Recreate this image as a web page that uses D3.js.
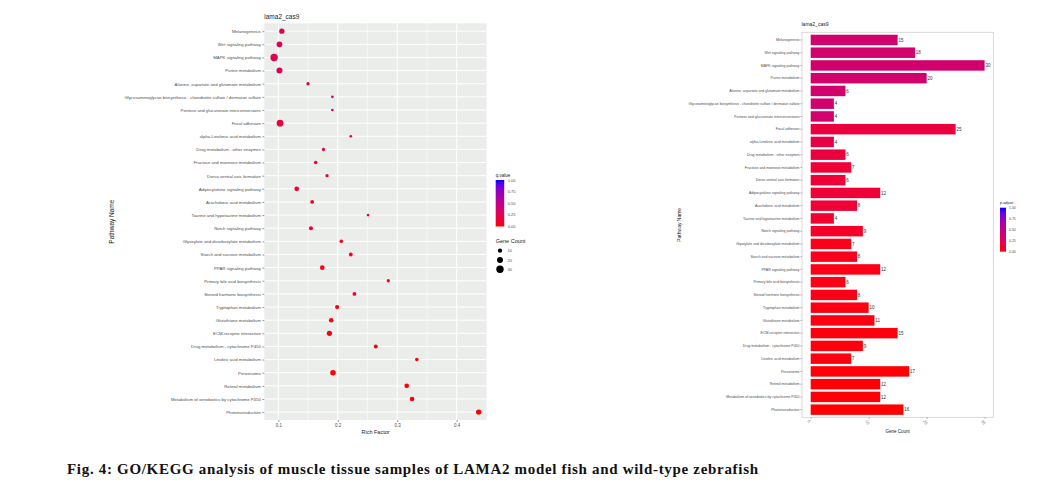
<!DOCTYPE html>
<html><head><meta charset="utf-8">
<script src="https://cdn.jsdelivr.net/npm/d3@7"></script>
<style>body{margin:0;background:#fff}svg{display:block}</style>
</head><body><svg id="c" width="1061" height="486"></svg>
<script>
const pathways = [
  "Melanogenesis","Wnt signaling pathway","MAPK signaling pathway","Purine metabolism",
  "Alanine, aspartate and glutamate metabolism",
  "Glycosaminoglycan biosynthesis - chondroitin sulfate / dermatan sulfate",
  "Pentose and glucuronate interconversions","Focal adhesion","alpha-Linolenic acid metabolism",
  "Drug metabolism - other enzymes","Fructose and mannose metabolism","Dorso-ventral axis formation",
  "Adipocytokine signaling pathway","Arachidonic acid metabolism","Taurine and hypotaurine metabolism",
  "Notch signaling pathway","Glyoxylate and dicarboxylate metabolism","Starch and sucrose metabolism",
  "PPAR signaling pathway","Primary bile acid biosynthesis","Steroid hormone biosynthesis",
  "Tryptophan metabolism","Glutathione metabolism","ECM-receptor interaction",
  "Drug metabolism - cytochrome P450","Linoleic acid metabolism","Peroxisome","Retinol metabolism",
  "Metabolism of xenobiotics by cytochrome P450","Phototransduction"
];
const richFactor = [0.106,0.102,0.093,0.102,0.150,0.191,0.191,0.103,0.222,0.176,0.163,0.182,0.131,0.157,0.251,
  0.155,0.206,0.222,0.174,0.285,0.228,0.199,0.189,0.186,0.264,0.333,0.192,0.316,0.325,0.437];
const geneCount = [15,18,30,20,6,4,4,25,4,6,7,6,12,8,4,9,7,8,12,6,8,10,11,15,9,7,17,12,12,16];
const qValue = [0.27,0.27,0.27,0.27,0.3,0.33,0.33,0.16,0.3,0.14,0.13,0.13,0.12,0.1,0.14,
  0.09,0.05,0.05,0.04,0.04,0.04,0.03,0.03,0.02,0.02,0.02,0.01,0.01,0.01,0.0];
const pAdjust = [0.38,0.38,0.38,0.38,0.38,0.38,0.38,0.18,0.22,0.18,0.15,0.15,0.15,0.15,0.12,
  0.1,0.05,0.05,0.04,0.04,0.04,0.03,0.03,0.02,0.02,0.02,0.01,0.01,0.01,0.0];
const richTicks = [0.1,0.2,0.3,0.4];
const richMinor = [0.15,0.25,0.35];
const countTicks = [0,10,20,30];
const legendTicks = [1.00,0.75,0.50,0.25,0.00];
const sizeLegend = [10,20,30];
const panelTitle = "lama2_cas9";
const caption = "Fig. 4: GO/KEGG analysis of muscle tissue samples of LAMA2 model fish and wild-type zebrafish";

const svg = d3.select("#c");
const FONT = "'Liberation Sans', Arial, sans-serif";
const color = d3.scaleLinear().domain([0,1]).range(["red","blue"]).interpolate(d3.interpolateLab);

// ---------- LEFT: dot plot ----------
const L = {x0:264.3, x1:486.7, y0:23.3, y1:420};
const xL = d3.scaleLinear().domain([0.0765,0.4505]).range([L.x0,L.x1]);
const yL = d3.scalePoint().domain(pathways).range([L.y0,L.y1]).padding(0.6);
const rL = d3.scaleSqrt().domain([4,30]).range([1.35,3.7]);
const gl = svg.append("g");
gl.append("rect").attr("x",L.x0).attr("y",L.y0).attr("width",L.x1-L.x0).attr("height",L.y1-L.y0).attr("fill","#EBEDEB");
gl.selectAll(".mn").data(richMinor).join("line").attr("x1",d=>xL(d)).attr("x2",d=>xL(d))
  .attr("y1",L.y0).attr("y2",L.y1).attr("stroke","#fff").attr("stroke-width",0.5);
gl.selectAll(".mj").data(richTicks).join("line").attr("x1",d=>xL(d)).attr("x2",d=>xL(d))
  .attr("y1",L.y0).attr("y2",L.y1).attr("stroke","#fff").attr("stroke-width",1);
gl.selectAll(".hz").data(pathways).join("line").attr("x1",L.x0).attr("x2",L.x1)
  .attr("y1",d=>yL(d)).attr("y2",d=>yL(d)).attr("stroke","#fff").attr("stroke-width",1);
gl.selectAll(".dot").data(pathways).join("circle")
  .attr("cx",(d,i)=>xL(richFactor[i])).attr("cy",d=>yL(d)).attr("r",(d,i)=>rL(geneCount[i]))
  .attr("fill",(d,i)=>color(qValue[i]));
// axes
const axLy = gl.append("g").attr("transform",`translate(${L.x0},0)`)
  .call(d3.axisLeft(yL).tickSize(2).tickPadding(1.5));
axLy.select(".domain").remove();
axLy.selectAll("line").attr("stroke","#333").attr("stroke-width",0.5);
axLy.selectAll("text").attr("font-size",4.3).attr("fill","#4D4D4D").attr("font-family",FONT);
const axLx = gl.append("g").attr("transform",`translate(0,${L.y1})`)
  .call(d3.axisBottom(xL).tickValues(richTicks).tickFormat(d3.format(".1f")).tickSize(2).tickPadding(2));
axLx.select(".domain").remove();
axLx.selectAll("line").attr("stroke","#333").attr("stroke-width",0.5);
axLx.selectAll("text").attr("font-size",4.5).attr("fill","#4D4D4D").attr("font-family",FONT);
gl.append("text").attr("x",(L.x0+L.x1)/2).attr("y",433.5).attr("text-anchor","middle")
  .attr("font-size",5.5).attr("font-family",FONT).attr("fill","#222").text("Rich Factor");
gl.append("text").attr("transform",`translate(114,${(L.y0+L.y1)/2}) rotate(-90)`).attr("text-anchor","middle")
  .attr("font-size",6.5).attr("font-family",FONT).attr("fill","#222").text("Pathway Name");
gl.append("text").attr("x",L.x0).attr("y",19).attr("font-size",6.5).attr("font-family",FONT).attr("fill","#222").text(panelTitle);
// legend left
const defs = svg.append("defs");
const grad = defs.append("linearGradient").attr("id","gq").attr("x1",0).attr("y1",1).attr("x2",0).attr("y2",0);
d3.range(0,1.01,0.1).forEach(t=>grad.append("stop").attr("offset",t).attr("stop-color",color(t)));
const lgL = {x:495.7, y0:180, y1:226.5, w:8.5};
gl.append("text").attr("x",lgL.x).attr("y",177).attr("font-size",4.5).attr("font-family",FONT).attr("fill","#222").text("q.value");
gl.append("rect").attr("x",lgL.x).attr("y",lgL.y0).attr("width",lgL.w).attr("height",lgL.y1-lgL.y0).attr("fill","url(#gq)");
const lsL = d3.scaleLinear().domain([0,1]).range([lgL.y1,lgL.y0]);
gl.selectAll(".lt").data(legendTicks).join("text").attr("x",lgL.x+lgL.w+3.5).attr("y",d=>lsL(d)+1.5)
  .attr("font-size",4).attr("font-family",FONT).attr("fill","#4D4D4D").text(d=>d3.format(".2f")(d));
gl.append("text").attr("x",lgL.x).attr("y",243).attr("font-size",5.5).attr("font-family",FONT).attr("fill","#222").text("Gene Count");
const sy = d3.scalePoint().domain(sizeLegend).range([250.7,269.3]);
gl.selectAll(".sl").data(sizeLegend).join("circle").attr("cx",500).attr("cy",d=>sy(d)).attr("r",d=>rL(d)).attr("fill","#000");
gl.selectAll(".slt").data(sizeLegend).join("text").attr("x",507.5).attr("y",d=>sy(d)+1.5)
  .attr("font-size",4).attr("font-family",FONT).attr("fill","#4D4D4D").text(d=>d);

// ---------- RIGHT: bar chart ----------
const R = {x0:802, x1:993.3, y0:32.3, y1:417.3};
const xR = d3.scaleLinear().domain([-1.5,31.5]).range([R.x0,R.x1]);
const yR = d3.scaleBand().domain(pathways).range([R.y0,R.y1]).paddingInner(0.18).paddingOuter(0.19);
const gr = svg.append("g");
gr.append("rect").attr("x",R.x0).attr("y",R.y0).attr("width",R.x1-R.x0).attr("height",R.y1-R.y0)
  .attr("fill","#fff").attr("stroke","#D0D0D0").attr("stroke-width",0.8);
gr.selectAll(".bar").data(pathways).join("rect")
  .attr("x",xR(0)).attr("y",d=>yR(d)).attr("width",(d,i)=>xR(geneCount[i])-xR(0)).attr("height",yR.bandwidth())
  .attr("fill",(d,i)=>color(pAdjust[i]));
gr.selectAll(".bl").data(pathways).join("text")
  .attr("x",(d,i)=>xR(geneCount[i])+0.8).attr("y",d=>yR(d)+yR.bandwidth()/2+1.6)
  .attr("font-size",4.5).attr("font-family",FONT).attr("fill","#333").text((d,i)=>geneCount[i]);
const axRy = gr.append("g").attr("transform",`translate(${R.x0},0)`)
  .call(d3.axisLeft(yR).tickSize(1.5).tickPadding(1));
axRy.select(".domain").remove();
axRy.selectAll("line").attr("stroke","#333").attr("stroke-width",0.4);
axRy.selectAll("text").attr("font-size",3.5).attr("fill","#4D4D4D").attr("font-family",FONT);
const axRx = gr.append("g").attr("transform",`translate(0,${R.y1})`)
  .call(d3.axisBottom(xR).tickValues(countTicks).tickSize(1.5).tickPadding(2));
axRx.select(".domain").remove();
axRx.selectAll("line").attr("stroke","#333").attr("stroke-width",0.4);
axRx.selectAll("text").attr("font-size",4).attr("fill","#777").attr("font-family",FONT)
  .attr("text-anchor","start").attr("transform","translate(-1,2) rotate(60)").attr("dy","0");
gr.append("text").attr("x",(R.x0+R.x1)/2).attr("y",432.5).attr("text-anchor","middle")
  .attr("font-size",4.5).attr("font-family",FONT).attr("fill","#222").text("Gene Count");
gr.append("text").attr("transform",`translate(681,${(R.y0+R.y1)/2}) rotate(-90)`).attr("text-anchor","middle")
  .attr("font-size",5).attr("font-family",FONT).attr("fill","#222").text("Pathway Name");
gr.append("text").attr("x",R.x0-0.5).attr("y",26).attr("font-size",5).attr("font-family",FONT).attr("fill","#222").text(panelTitle);
const lgR = {x:1000, y0:207.7, y1:251.7, w:6};
gr.append("text").attr("x",lgR.x).attr("y",203.5).attr("font-size",3.8).attr("font-family",FONT).attr("fill","#222").text("p.adjust");
gr.append("rect").attr("x",lgR.x).attr("y",lgR.y0).attr("width",lgR.w).attr("height",lgR.y1-lgR.y0).attr("fill","url(#gq)");
const lsR = d3.scaleLinear().domain([0,1]).range([lgR.y1,lgR.y0]);
gr.selectAll(".lt").data(legendTicks).join("text").attr("x",lgR.x+lgR.w+3).attr("y",d=>lsR(d)+1.3)
  .attr("font-size",3.5).attr("font-family",FONT).attr("fill","#4D4D4D").text(d=>d3.format(".2f")(d));

// caption
svg.append("text").attr("x",67).attr("y",473.5).attr("font-size",15).attr("font-weight","bold")
  .attr("textLength",691).attr("lengthAdjust","spacing")
  .attr("font-family","'Liberation Serif','Times New Roman',serif").attr("fill","#111").text(caption);
</script></body></html>
